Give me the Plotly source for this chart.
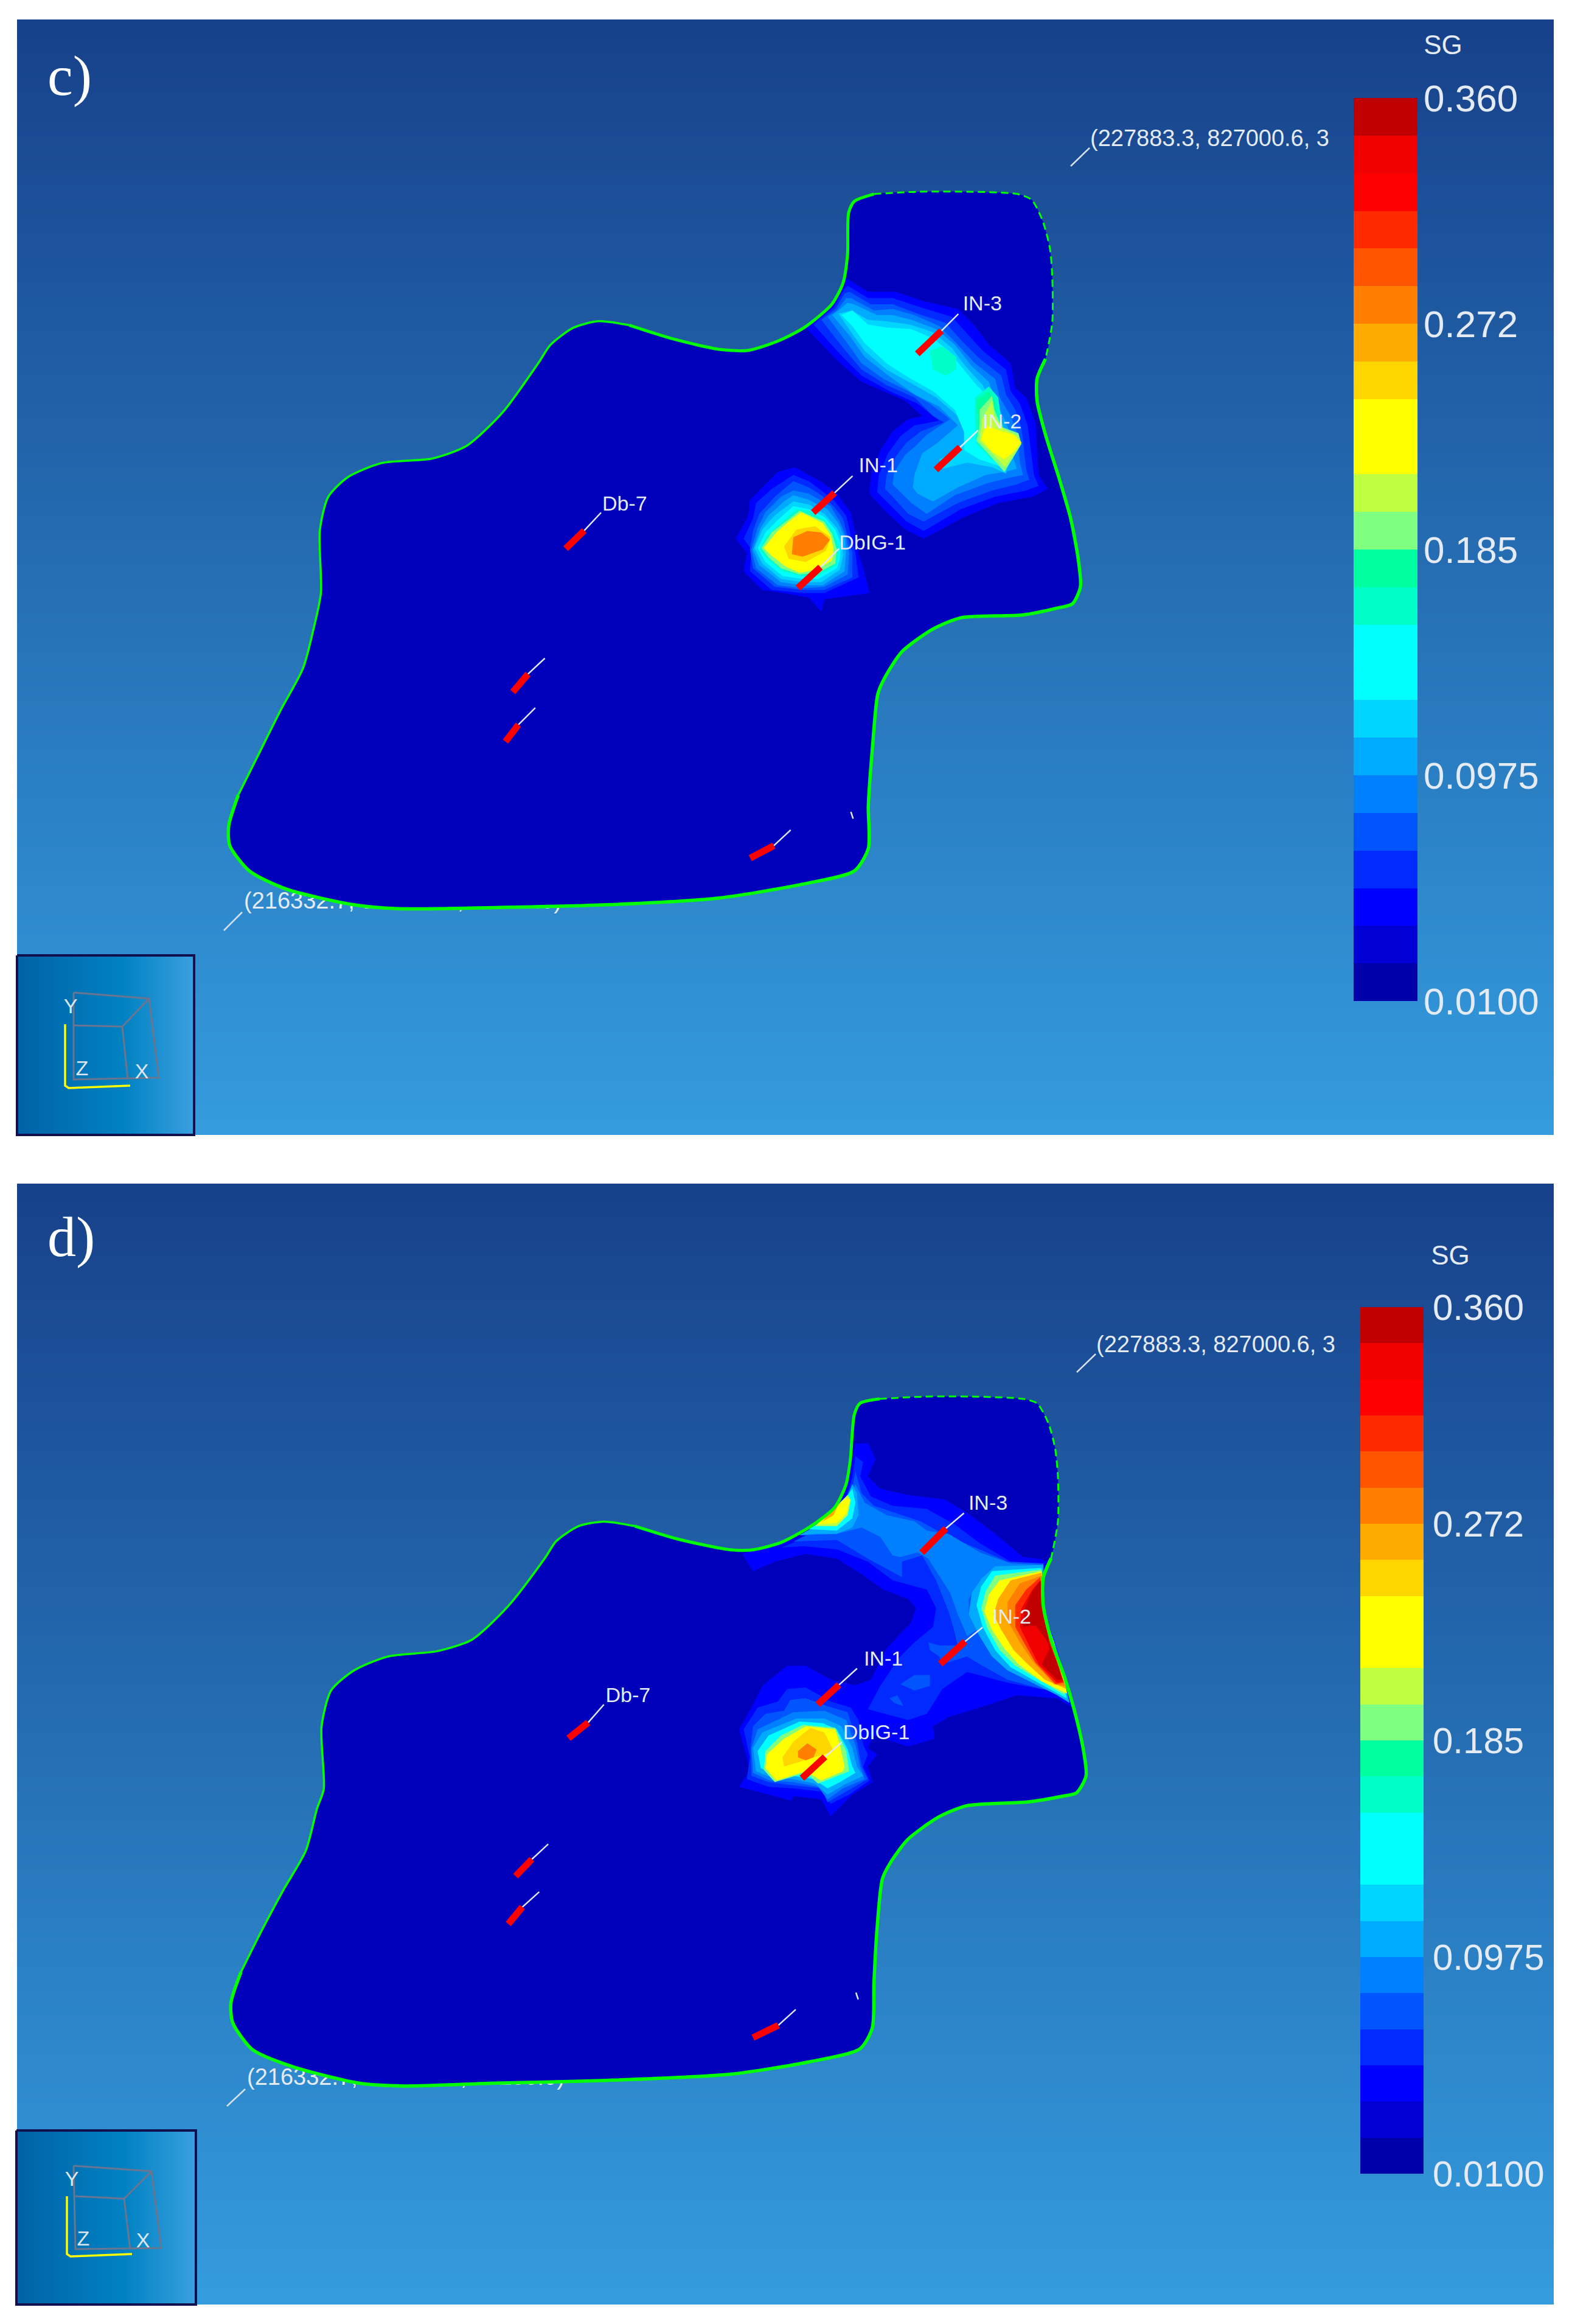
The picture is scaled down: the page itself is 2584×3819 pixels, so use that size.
import plotly.graph_objects as go

W, H = 2584, 3819

# ---- SG legend
SG_EDGES = [0.0100, 0.0246, 0.0392, 0.0538, 0.0683, 0.0829, 0.0975, 0.1121, 0.1267, 0.1413, 0.1558, 0.1704,
            0.1850, 0.1996, 0.2142, 0.2288, 0.2433, 0.2579, 0.2725, 0.2871, 0.3017, 0.3163, 0.3308, 0.3454, 0.3600]
SG_COLORS = ["#0000aa", "#0000d5", "#0000ff", "#002aff", "#0055ff", "#0080ff", "#00aaff", "#00d5ff",
             "#00ffff", "#00ffff", "#00ffc8", "#00ff9f", "#80ff80", "#c0ff40", "#ffff00", "#ffff00",
             "#ffd500", "#ffaa00", "#ff8000", "#ff5500", "#ff2a00", "#ff0000", "#f00000", "#c00000"]
SG_TICKS = [0.0100, 0.0975, 0.1850, 0.2725, 0.3600]
SG_TICKTEXT = ["0.0100", "0.0975", "0.185", "0.272", "0.360"]
FIELD_BASE = "#0000bb"

# ---- reservoir outlines (crop units, 1568 = 1450 px)
C_OUTLINE = [(1130,75),(1140,55),(1175,42),(1250,38),(1350,38),(1430,42),(1455,52),(1475,90),(1488,140),(1492,190),(1492,270),(1480,335),(1465,370),(1465,410),(1480,470),(1505,550),(1525,620),(1538,690),(1542,740),(1528,770),(1500,778),(1440,790),(1330,795),(1280,815),(1225,855),(1195,900),(1182,930),(1172,1030),(1165,1130),(1165,1205),(1140,1245),(1050,1268),(900,1293),(700,1305),(500,1310),(330,1312),(250,1305),(130,1277),(65,1245),(30,1200),(28,1165),(45,1110),(80,1040),(120,960),(160,885),(180,810),(192,750),(190,640),(205,580),(240,545),(300,520),(390,512),(450,490),(515,430),(580,340),(600,310),(640,280),(685,268),(740,275),(820,300),(900,318),(950,320),(1000,305),(1050,280),(1100,238),(1120,200),(1128,150),(1130,75)]
D_OUTLINE = [(1140,70),(1150,50),(1185,42),(1260,38),(1360,38),(1440,42),(1465,50),(1485,85),(1497,130),(1502,180),(1502,260),(1490,325),(1476,360),(1476,410),(1490,470),(1515,540),(1535,610),(1548,670),(1552,712),(1535,742),(1510,748),(1450,758),(1340,765),(1290,785),(1235,825),(1205,865),(1190,895),(1180,990),(1175,1080),(1172,1160),(1150,1197),(1060,1220),(920,1242),(700,1253),(500,1258),(340,1263),(260,1258),(140,1228),(70,1198),(35,1150),(32,1115),(50,1060),(85,990),(125,915),(165,845),(185,770),(197,735),(193,625),(210,560),(250,525),(310,500),(400,490),(460,470),(525,410),(590,325),(610,295),(650,268),(695,260),(750,268),(830,292),(920,310),(960,310),(1010,297),(1060,270),(1105,235),(1125,195),(1133,150),(1140,70)]
C_DOTTED_FROM, C_DOTTED_TO = (1175,42), (1480,335)
C_THIN_FROM, C_THIN_TO = (45,1110), (740,275)
D_DOTTED_FROM, D_DOTTED_TO = (1185,42), (1490,325)
D_THIN_FROM, D_THIN_TO = (50,1060), (750,268)

# ---- wells: name, well start, well end, leader end, label x, label y (crop units)
C_WELLS = [("IN-3",(1252,326),(1295,285),(1325,255),1333,240),("IN-2",(1285,532),(1328,492),(1360,462),1368,449),
           ("IN-1",(1067,608),(1105,573),(1137,543),1148,527),("DbIG-1",(1040,742),(1080,705),(1113,672),1113,664),
           ("Db-7",(627,672),(660,640),(690,608),692,595),("",(533,927),(560,895),(590,867),0,0),
           ("",(520,1015),(543,985),(573,955),0,0),("",(955,1222),(997,1200),(1027,1172),0,0)]
D_WELLS = [("IN-3",(1260,315),(1303,272),(1335,245),1343,230),("IN-2",(1293,513),(1337,473),(1368,448),1385,432),
           ("IN-1",(1075,585),(1113,550),(1145,521),1157,507),("DbIG-1",(1047,716),(1088,678),(1118,652),1120,637),
           ("Db-7",(632,645),(667,617),(695,585),698,572),("",(538,890),(567,860),(596,833),0,0),
           ("",(525,975),(550,945),(580,918),0,0),("",(960,1177),(1005,1155),(1036,1127),0,0)]
C_TICK = [(1134,1140),(1138,1152)]
D_TICK = [(1143,1097),(1147,1109)]

# ---- panel c SG contours (crop units, 1568 = 800 px); the integer is the legend band
C_NE_1 = [(570,405),(640,450),(730,450),(820,480),(930,505),(985,560),(1030,620),(1100,680),(1115,760),(1150,790),(1180,870),(1190,1040),(1220,1085),(1170,1110),(1060,1130),(950,1175),(820,1245),(760,1215),(690,1150),(645,1100),(650,1040),(680,960),(720,900),(770,860),(815,850),(760,800),(620,740),(540,670),(440,565),(530,490),(565,430)]
C_NE_2 = [(575,430),(640,470),(720,470),(810,500),(910,530),(965,590),(1010,640),(1085,700),(1100,770),(1130,810),(1155,880),(1175,1040),(1190,1075),(1150,1090),(1050,1110),(940,1150),(820,1220),(765,1190),(705,1130),(670,1095),(675,1040),(705,970),(745,915),(790,880),(870,865),(800,810),(710,770),(620,720),(550,650),(465,555),(530,500),(565,440)]
C_NE_3 = [(580,450),(650,490),(720,490),(800,520),(890,550),(945,610),(1000,665),(1070,720),(1085,780),(1115,830),(1135,890),(1150,1020),(1160,1055),(1120,1070),(1040,1090),(930,1130),(820,1190),(770,1165),(720,1110),(695,1085),(700,1040),(730,980),(765,935),(810,900),(885,870),(850,850),(790,790),(700,750),(620,700),(560,630),(490,540),(535,505),(565,455)]
C_NE_4 = [(585,470),(660,510),(720,505),(790,525),(870,560),(925,615),(985,680),(1050,730),(1065,790),(1100,850),(1120,900),(1130,1000),(1140,1040),(1090,1050),(1030,1065),(920,1105),(830,1165),(780,1130),(720,1070),(725,1030),(760,975),(790,950),(830,910),(905,860),(840,810),(770,770),(690,730),(620,680),(570,610),(510,530),(540,510),(570,470)]
C_NE_5 = [(595,490),(670,525),(720,525),(780,540),(860,570),(920,620),(975,690),(1030,740),(1050,800),(1080,860),(1100,910),(1110,990),(1120,1020),(1080,1030),(1020,1040),(930,1080),(850,1125),(800,1100),(785,1080),(790,1040),(815,970),(860,940),(930,880),(870,820),(790,780),(700,715),(630,660),(580,590),(525,525),(545,510),(575,485)]
C_NE_6 = [(590,510),(640,540),(700,545),(775,555),(850,580),(910,630),(955,690),(1010,750),(1040,810),(1065,870),(1090,920),(1095,990),(1085,1035),(1040,1015),(960,1000),(880,1020),(870,990),(930,960),(960,930),(930,850),(860,790),(780,745),(700,700),(630,640),(590,585),(545,520)]
C_NE_7 = [(555,525),(590,510),(640,555),(700,565),(780,570),(850,600),(900,640),(940,690),(985,745),(1030,790),(1060,860),(1075,930),(1085,970),(1090,1015),(1060,1010),(1000,990),(950,960),(950,900),(920,830),(850,770),(770,725),(700,680),(630,615),(590,560)]
C_NE_8A = [(840,640),(880,625),(925,660),(925,700),(890,720),(850,700)]
C_NE_8B = [(985,790),(1030,755),(1060,790),(1070,860),(1085,930),(1080,1010),(1040,990),(990,940),(985,870)]
C_NE_9 = [(990,800),(1030,770),(1050,800),(1060,880),(1085,960),(1078,1005),(1000,930),(995,860)]
C_NE_10 = [(1000,830),(1040,785),(1048,830),(1070,885),(1125,905),(1135,940),(1080,1030),(1040,985),(990,930),(1000,880)]
C_NE_11 = [(1008,860),(1040,800),(1048,850),(1075,890),(1125,915),(1130,945),(1082,1015),(1045,975),(1000,930)]
C_NE_12 = [(1020,880),(1060,895),(1110,910),(1135,935),(1110,965),(1080,990),(1040,965),(1005,925)]
C_DB_1 = [(405,1015),(450,1040),(495,1065),(540,1100),(585,1160),(600,1230),(610,1290),(625,1340),(645,1420),(500,1440),(490,1480),(450,1435),(370,1420),(300,1410),(240,1350),(250,1290),(215,1245),(255,1170),(260,1120),(320,1060),(350,1030)]
C_DB_2 = [(400,1040),(450,1060),(490,1090),(530,1120),(570,1170),(585,1235),(600,1290),(610,1370),(500,1420),(430,1420),(330,1410),(260,1350),(265,1280),(240,1245),(270,1180),(280,1130),(330,1085)]
C_DB_3 = [(400,1060),(450,1080),(490,1105),(530,1140),(560,1180),(575,1240),(590,1290),(590,1370),(500,1410),(430,1410),(340,1400),(270,1340),(260,1280),(270,1220),(290,1165),(340,1110)]
C_DB_4 = [(400,1090),(450,1100),(520,1140),(550,1190),(570,1240),(580,1290),(575,1360),(500,1400),(430,1405),(350,1395),(280,1340),(265,1280),(285,1210),(310,1160),(360,1110)]
C_DB_5 = [(400,1105),(450,1120),(510,1150),(545,1195),(565,1240),(570,1290),(565,1350),(495,1395),(430,1395),(360,1385),(290,1330),(270,1280),(295,1210),(320,1170),(370,1125)]
C_DB_6 = [(400,1125),(450,1135),(500,1165),(540,1210),(558,1250),(560,1300),(550,1345),(490,1385),(430,1385),(360,1375),(300,1325),(275,1275),(300,1215),(340,1170)]
C_DB_7 = [(400,1140),(450,1150),(500,1175),(535,1215),(552,1260),(550,1310),(540,1340),(480,1375),(430,1375),(365,1365),(310,1320),(285,1275),(310,1225),(350,1185)]
C_DB_8 = [(410,1150),(450,1155),(500,1185),(530,1225),(545,1270),(540,1330),(480,1365),(430,1365),(365,1350),(315,1310),(292,1280),(315,1235),(360,1195)]
C_DB_10 = [(420,1155),(500,1190),(525,1230),(540,1280),(535,1325),(480,1355),(420,1360),(360,1340),(320,1305),(297,1275),(330,1225)]
C_DB_12 = [(425,1160),(495,1195),(520,1235),(530,1280),(525,1315),(475,1345),(420,1355),(375,1335),(330,1300),(305,1275),(345,1225),(385,1190)]
C_DB_G = [(370,1270),(410,1215),(470,1205),(520,1240),(505,1285),(440,1320),(385,1310)]
C_DB_13 = [(400,1240),(445,1220),(490,1225),(518,1248),(495,1280),(430,1303),(395,1295)]
C_FIELD = [(2,C_NE_1),(3,C_NE_2),(4,C_NE_3),(5,C_NE_4),(6,C_NE_5),(7,C_NE_6),(8,C_NE_7),(10,C_NE_8A),(10,C_NE_8B),(11,C_NE_9),(12,C_NE_10),(13,C_NE_11),(14,C_NE_12),
           (2,C_DB_1),(3,C_DB_2),(4,C_DB_3),(5,C_DB_4),(6,C_DB_5),(7,C_DB_6),(8,C_DB_7),(10,C_DB_8),(12,C_DB_10),(14,C_DB_12),(16,C_DB_G),(18,C_DB_13)]

# ---- panel d SG contours
D_MAIN_1 = [(600,240),(640,238),(665,290),(640,345),(680,385),(770,405),(890,420),(970,470),(1050,530),(1140,605),(1190,610),(1225,620),(1205,660),(1210,790),(1250,900),(1290,1050),(1300,1090),(1250,1060),(1120,1050),(1000,1090),(900,1120),(850,1150),(855,1190),(770,1215),(660,1180),(640,1220),(670,1240),(640,1280),(655,1330),(590,1370),(520,1440),(490,1385),(400,1375),(395,1390),(320,1370),(225,1345),(260,1290),(225,1160),(270,1080),(300,1020),(380,955),(440,955),(520,1000),(600,1018),(650,1000),(700,900),(780,815),(795,770),(770,740),(690,710),(620,660),(540,610),(440,595),(340,620),(270,650),(235,595),(420,540),(480,510),(545,435),(580,350)]
D_MAIN_2 = [(600,280),(625,300),(615,345),(650,410),(720,440),(830,450),(920,500),(1000,560),(1100,620),(1205,625),(1205,660),(1210,790),(1250,900),(1290,1050),(1250,1040),(1090,1010),(960,975),(880,1030),(830,1110),(770,1130),(640,1095),(680,1020),(740,930),(790,880),(850,830),(860,770),(830,710),(720,680),(640,620),(540,580),(430,570),(360,575),(470,530),(560,440),(590,350)]
D_MAIN_4 = [(600,330),(620,400),(660,440),(720,460),(810,490),(900,540),(1000,580),(1090,620),(1205,625),(1205,780),(1250,900),(1280,1040),(1200,1030),(1090,1000),(1000,950),(960,925),(880,950),(870,925),(840,905),(835,880),(870,890),(930,890),(915,830),(900,780),(860,680),(815,600),(750,620),(750,670),(640,610),(540,550),(400,555),(450,530),(555,490),(580,430)]
D_PATCH_A = [(745,1015),(790,985),(840,985),(840,1020),(790,1035)]
D_PATCH_B = [(710,1060),(735,1050),(755,1085),(725,1075)]
D_MAIN_5 = [(600,370),(630,430),(700,470),(790,490),(830,520),(900,530),(1000,590),(1100,625),(1205,630),(1205,650),(1050,640),(1000,680),(965,740),(965,790),(1005,830),(960,860),(930,790),(905,720),(860,650),(835,610),(800,590),(745,605),(720,600),(680,540),(620,510),(540,530),(420,535),(540,470),(580,410)]
D_HOT_1 = [(1205,630),(1050,635),(1005,675),(975,720),(965,790),(1000,860),(1040,925),(1090,970),(1170,1010),(1250,1050),(1290,1075),(1270,990),(1240,880),(1210,790)]
D_HOT_2 = [(1200,640),(1040,650),(1005,700),(990,760),(1010,830),(1050,905),(1100,960),(1180,1005),(1280,1060),(1270,990),(1240,880),(1208,790)]
D_HOT_3 = [(1200,645),(1050,665),(1020,715),(1005,770),(1025,835),(1065,905),(1115,955),(1190,1000),(1275,1050),(1270,990),(1240,880),(1208,790)]
D_HOT_4 = [(1200,650),(1065,680),(1030,725),(1015,780),(1040,840),(1080,900),(1125,950),(1200,1005),(1282,1045),(1270,990),(1240,880),(1208,790)]
D_HOT_5 = [(1200,655),(1100,680),(1060,740),(1045,790),(1070,840),(1110,905),(1150,945),(1210,1000),(1280,1030),(1265,985),(1235,880),(1205,790)]
D_HOT_6 = [(1200,665),(1130,690),(1090,750),(1090,810),(1130,880),(1170,940),(1240,1015),(1275,1020),(1262,980),(1232,880),(1205,790)]
D_HOT_7 = [(1195,670),(1150,710),(1115,760),(1115,830),(1140,875),(1180,945),(1245,1015),(1272,1010),(1260,975),(1230,880),(1205,790)]
D_HOT_8 = [(1195,680),(1170,710),(1135,770),(1130,830),(1150,870),(1190,950),(1250,1010),(1270,1005),(1258,975),(1225,880),(1205,790)]
D_HOT_9 = [(1197,680),(1170,715),(1145,770),(1140,830),(1180,825),(1215,870),(1225,900),(1200,950),(1250,1000),(1268,1000),(1255,960),(1225,880),(1205,790)]
D_NW_1 = [(420,535),(470,530),(540,530),(590,510),(610,470),(605,400),(590,370),(575,405),(545,435),(480,500)]
D_NW_2 = [(450,515),(540,520),(590,480),(600,430),(590,385),(575,405),(545,435),(490,490)]
D_NW_3 = [(470,505),(540,505),(575,470),(585,420),(575,405),(545,435),(490,485)]
D_NW_4 = [(480,500),(540,495),(570,465),(583,420),(570,415),(545,435),(495,480)]
D_NW_5 = [(495,490),(530,470),(545,435),(520,455)]
D_DB_1 = [(380,1030),(440,1025),(520,1070),(585,1090),(610,1130),(625,1210),(640,1240),(625,1280),(645,1325),(580,1370),(520,1400),(490,1360),(400,1350),(320,1345),(250,1320),(260,1250),(240,1160),(285,1090),(350,1070)]
D_DB_2 = [(390,1065),(440,1060),(510,1085),(575,1105),(605,1200),(620,1280),(640,1320),(570,1360),(510,1395),(490,1350),(400,1340),(320,1330),(265,1310),(262,1220),(270,1150),(310,1110),(370,1100)]
D_DB_3 = [(400,1105),(500,1100),(570,1130),(600,1210),(615,1280),(630,1320),(560,1350),(510,1385),(480,1345),(400,1330),(325,1325),(270,1300),(265,1220),(285,1160)]
D_DB_4 = [(410,1125),(500,1125),(555,1150),(590,1220),(605,1280),(625,1310),(560,1340),(510,1370),(470,1335),(400,1320),(330,1315),(280,1295),(270,1220),(300,1170)]
D_DB_5 = [(420,1135),(495,1140),(540,1160),(575,1225),(590,1280),(600,1300),(550,1330),(510,1350),(465,1320),(400,1310),(335,1305),(295,1285),(285,1230),(320,1180)]
D_DB_6 = [(430,1145),(535,1155),(570,1230),(580,1295),(480,1335),(440,1300),(340,1330),(305,1290),(310,1230),(360,1180)]
D_DB_7 = [(440,1150),(535,1160),(550,1210),(565,1280),(560,1295),(490,1325),(440,1295),(345,1325),(310,1285),(315,1240),(370,1190)]
D_DB_8 = [(455,1155),(500,1170),(530,1230),(500,1240),(370,1280),(365,1250),(400,1200)]
D_DB_9 = [(415,1230),(445,1205),(475,1225),(465,1250),(440,1260),(415,1250)]
D_FIELD = [(2,D_MAIN_1),(3,D_MAIN_2),(4,D_MAIN_4),(4,D_PATCH_A),(4,D_PATCH_B),(5,D_MAIN_5),
           (6,D_HOT_1),(8,D_HOT_2),(12,D_HOT_3),(14,D_HOT_4),(17,D_HOT_5),(18,D_HOT_6),(20,D_HOT_7),(22,D_HOT_8),(23,D_HOT_9),
           (6,D_NW_1),(8,D_NW_2),(13,D_NW_3),(14,D_NW_4),(17,D_NW_5),
           (3,D_DB_1),(4,D_DB_2),(5,D_DB_3),(6,D_DB_4),(8,D_DB_5),(12,D_DB_6),(14,D_DB_7),(16,D_DB_8),(18,D_DB_9)]

# ---- orientation cube (page pixels)
C_CUBE = [[(121,1631),(245,1641),(261,1771),(121,1774),(121,1631)], [(121,1685),(201,1687),(210,1774)], [(201,1687),(245,1641)]]
C_TRIAD = [(107,1683),(107,1784),(113,1788),(214,1784)]
C_AXES_TXT = [("Y",116,1656),("Z",135,1758),("X",233,1763)]
D_CUBE = [[(121,3559),(249,3568),(265,3694),(124,3696),(121,3559)], [(124,3609),(204,3613),(214,3696)], [(204,3613),(249,3568)]]
D_TRIAD = [(110,3609),(110,3704),(116,3708),(217,3704)]
D_AXES_TXT = [("Y",118,3583),("Z",137,3681),("X",235,3684)]

FONT = "Liberation Sans"
TXT = "#e4ebf4"
fig = go.Figure()
hidden = dict(visible=False, showgrid=False, zeroline=False, fixedrange=True, automargin=False)


def xd(a, b):
    return [a / W, b / W]


def yd(a, b):
    return [1 - b / H, 1 - a / H]


layout = {}


def add_axes(n, x0, x1, y0, y1, xr, yr):
    s = "" if n == 1 else str(n)
    layout["xaxis" + s] = dict(domain=xd(x0, x1), range=xr, anchor="y" + s, **hidden)
    layout["yaxis" + s] = dict(domain=yd(y0, y1), range=yr, anchor="x" + s, **hidden)
    return ("x" + s, "y" + s)


BG_C = add_axes(1, 28, 2554, 32, 1865, [0, 1], [1, 0])
BG_D = add_axes(2, 28, 2554, 1945, 3787, [0, 1], [1, 0])
PAGE = add_axes(3, 0, W, 0, H, [0, W], [H, 0])
IN_C = add_axes(4, 28, 319, 1570, 1865, [0, 1], [1, 0])
IN_D = add_axes(5, 27, 322, 3501, 3787, [0, 1], [1, 0])
C_O = add_axes(6, 350, 1800, 280, 1730, [0, 1568], [1568, 0])
C_F = add_axes(7, 1100, 1900, 250, 1050, [0, 1568], [1568, 0])
C_T = add_axes(8, 350, 1800, 280, 1730, [0, 1568], [1568, 0])
D_O = add_axes(9, 350, 1800, 2260, 3710, [0, 1568], [1568, 0])
D_F = add_axes(10, 1100, 1900, 2250, 3050, [0, 1568], [1568, 0])
D_T = add_axes(11, 350, 1800, 2260, 3710, [0, 1568], [1568, 0])
C_B = add_axes(12, 2225, 2330, 161, 1645, [0, 1], [0.01, 0.36])
D_B = add_axes(13, 2236, 2340, 2148, 3572, [0, 1], [0.01, 0.36])
PAGE2 = add_axes(14, 0, W, 0, H, [0, W], [H, 0])


def text(ax, x, y, s, size, pos="middle right", color=TXT, family=FONT):
    fig.add_trace(go.Scatter(x=[x], y=[y], text=[s], mode="text", textposition=pos, xaxis=ax[0], yaxis=ax[1],
                             textfont=dict(size=size, color=color, family=family), hoverinfo="skip", showlegend=False))


def line(ax, pts, color, width, fill=None, shape="linear", dash="solid"):
    fig.add_trace(go.Scatter(x=[p[0] for p in pts], y=[p[1] for p in pts], xaxis=ax[0], yaxis=ax[1],
                             mode="lines" if width else "none", fill="toself" if fill else None, fillcolor=fill,
                             line=dict(color=color, width=width or 0, shape=shape, smoothing=0.7, dash=dash),
                             hoverinfo="skip", showlegend=False))


def gradient(ax, z, stops):
    fig.add_trace(go.Heatmap(x=[0, 1], y=[0, 1], z=z, zsmooth="best", colorscale=stops, showscale=False,
                             hoverinfo="skip", xaxis=ax[0], yaxis=ax[1], zmin=0, zmax=1))


BG = [[0, "#17418a"], [1, "#349cde"]]
INSET = [[0, "#0062a6"], [0.6, "#0082c2"], [1, "#3aa0e0"]]
gradient(BG_C, [[0, 0], [1, 1]], BG)
gradient(BG_D, [[0, 0], [1, 1]], BG)
gradient(IN_C, [[0, 1], [0, 1]], INSET)
gradient(IN_D, [[0, 1], [0, 1]], INSET)

for panel in (
    dict(label="c)", ly=132, tl=((1760, 273), (1791, 243), 1792, 230), bl=((368, 1529), (398, 1499), 401, 1483),
         box=(28, 319, 1570, 1865), cube=C_CUBE, triad=C_TRIAD, axt=C_AXES_TXT),
    dict(label="d)", ly=2040, tl=((1770, 2255), (1801, 2225), 1802, 2212), bl=((373, 3461), (403, 3433), 406, 3416),
         box=(27, 322, 3501, 3787), cube=D_CUBE, triad=D_TRIAD, axt=D_AXES_TXT),
):
    text(PAGE, 78, panel["ly"], panel["label"], 94, color="white", family="Liberation Serif")
    a, b, x, y = panel["tl"]
    line(PAGE, [a, b], "#d8e2ee", 2.5)
    text(PAGE, x, y, "(227883.3, 827000.6, 3", 38)
    a, b, x, y = panel["bl"]
    line(PAGE, [a, b], "#d8e2ee", 2.5)
    text(PAGE, x, y, "(216332.7, 816000.6, 27250.0)", 38)
    x0, x1, y0, y1 = panel["box"]
    line(PAGE2, [(x0, y0), (x1, y0), (x1, y1), (x0, y1), (x0, y0)], "#10104f", 4)
    for c in panel["cube"]:
        line(PAGE2, c, "#6a7590", 3)
    line(PAGE2, panel["triad"], "#ffff00", 3.5)
    for s, x, y in panel["axt"]:
        text(PAGE2, x, y, s, 34, pos="middle center", color="#dfe6ee")

for out, fld, top, outline, field, wells, tick, dotted, thin in (
    (C_O, C_F, C_T, C_OUTLINE, C_FIELD, C_WELLS, C_TICK, (C_DOTTED_FROM, C_DOTTED_TO), (C_THIN_FROM, C_THIN_TO)),
    (D_O, D_F, D_T, D_OUTLINE, D_FIELD, D_WELLS, D_TICK, (D_DOTTED_FROM, D_DOTTED_TO), (D_THIN_FROM, D_THIN_TO)),
):
    line(out, outline, "rgba(0,0,0,0)", 0.1, fill=FIELD_BASE, shape="spline")
    for lv, pts in field:
        line(fld, pts, "rgba(0,0,0,0)", 0, fill=SG_COLORS[lv])
    i0, i1 = outline.index(dotted[0]), outline.index(dotted[1])
    j0, j1 = outline.index(thin[0]), outline.index(thin[1])
    line(top, outline[i0:i1 + 1], "#00ff00", 3, shape="spline", dash="12px,7px")
    line(top, outline[i1:j0 + 1], "#00ff00", 5.5, shape="spline")
    line(top, outline[j0:j1 + 1], "#00ff00", 3.5, shape="spline")
    line(top, outline[j1:] + outline[1:i0 + 1], "#00ff00", 5, shape="spline")
    line(top, tick, "#e4ebf4", 2.5)
    for name, a, b, c, lx, ly in wells:
        line(top, [b, c], "#dfe7f0", 2.5)
        line(top, [a, b], "#ff0000", 11)
        if name:
            text(top, lx, ly, name, 34)

# ---- legend bars
scale = []
for i, col in enumerate(SG_COLORS):
    scale += [[i / 24, col], [(i + 1) / 24, col]]
mids = [[(SG_EDGES[i] + SG_EDGES[i + 1]) / 2] for i in range(24)]
for ax, n, size, off, sg in ((C_B, "12", 62, 9, (2372, 78)), (D_B, "13", 60, 14, (2384, 2067))):
    fig.add_trace(go.Heatmap(x=[0, 1], y=SG_EDGES, z=mids, colorscale=scale, zmin=0.01, zmax=0.36, showscale=False,
                             xaxis=ax[0], yaxis=ax[1], hoverinfo="skip"))
    layout["yaxis" + n].update(visible=True, side="right", tickmode="array", tickvals=SG_TICKS, ticktext=SG_TICKTEXT,
                               ticks="", showline=False, showgrid=False, zeroline=False, ticklabelstandoff=off,
                               tickfont=dict(family=FONT, size=size, color=TXT))
    text(PAGE2, sg[0], sg[1], "SG", 44, pos="middle center", family="Liberation Sans Narrow, Liberation Sans")

fig.update_layout(width=W, height=H, margin=dict(l=0, r=0, t=0, b=0), paper_bgcolor="white", plot_bgcolor="rgba(0,0,0,0)",
                  autosize=False, showlegend=False, template="none", **layout)
fig.write_html("out.html", post_script="document.body.style.margin='0';document.body.style.overflow='hidden';",
               config=dict(displayModeBar=False))
